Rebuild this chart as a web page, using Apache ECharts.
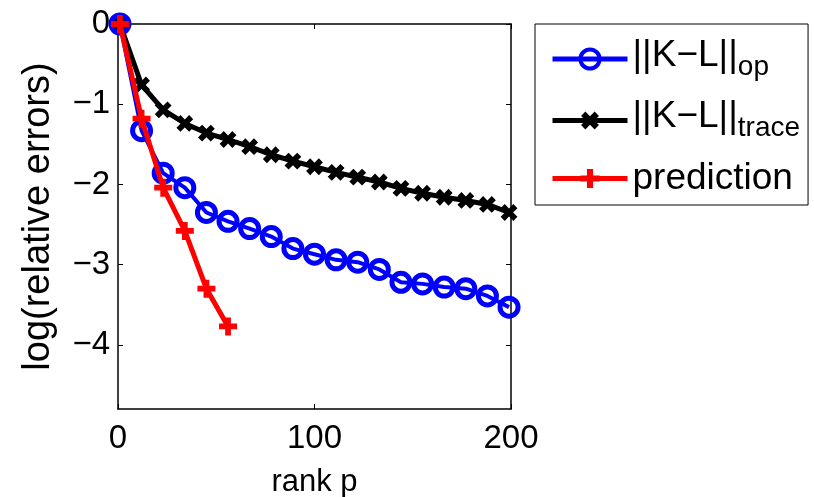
<!DOCTYPE html>
<html>
<head>
<meta charset="utf-8">
<script src="https://cdn.jsdelivr.net/npm/echarts@6/dist/echarts.min.js"></script>
<style>
  html, body { margin: 0; background: #fff; }
  #chart { width: 814px; height: 497px; }
</style>
</head>
<body>
<div id="chart"></div>
<script>
// ranks used for both norm curves
const ranks = [1, 12, 23, 34, 45, 56, 67, 78, 89, 100, 111, 122, 133, 144, 155, 166, 177, 188, 199]
const opErrors = [0, -1.33, -1.86, -2.04, -2.35, -2.46, -2.55, -2.65, -2.80, -2.87, -2.94, -2.97, -3.06, -3.22, -3.24, -3.28, -3.30, -3.39, -3.53]
const traceErrors = [0, -0.76, -1.07, -1.24, -1.36, -1.44, -1.53, -1.63, -1.71, -1.78, -1.85, -1.91, -1.97, -2.05, -2.11, -2.16, -2.20, -2.25, -2.35]
const predRanks = [1, 12, 23, 34, 45, 56]
const predErrors = [0, -1.18, -2.04, -2.58, -3.30, -3.77]
const yTicks = [0, -1, -2, -3, -4]

const font = "'Liberation Sans', Arial, sans-serif"
const pairs = (xs, ys) => xs.map((x, i) => [x, ys[i]])
const minus = v => String(v).replace('-', '\u2212')

const plusPath = 'path://M-1.6,-5H1.6V-1.6H5V1.6H1.6V5H-1.6V1.6H-5V-1.6H-1.6Z'

const axisLine = { show: true, onZero: false, lineStyle: { color: '#000', width: 1.5 } }
const tick = { show: true, inside: true, length: 5, lineStyle: { color: '#000', width: 1 } }

const chart = echarts.init(document.getElementById('chart'))
chart.setOption({
  animation: false,
  textStyle: { fontFamily: font },
  grid: { left: 118, right: 303, top: 24, bottom: 88, outerBoundsMode: 'none', containLabel: false },
  legend: {
    left: 535,
    top: 24,
    orient: 'vertical',
    data: ['op', 'trace', 'prediction'],
    itemWidth: 75,
    itemHeight: 24,
    itemGap: 17.5,
    padding: [13, 8, 8, 15],
    borderColor: '#000',
    borderWidth: 1,
    borderRadius: 0,
    lineStyle: { width: 5 },
    itemStyle: { borderWidth: 4 },
    formatter: name => name === 'prediction'
      ? '{p|prediction}'
      : '{m|||K\u2212L||}{s|' + name + '}',
    textStyle: {
      color: '#000',
      fontFamily: font,
      rich: {
        m: { fontSize: 37, lineHeight: 30, verticalAlign: 'top', fontFamily: font, color: '#000' },
        s: { fontSize: 28, lineHeight: 44, verticalAlign: 'bottom', padding: [5, 0, 0, 0], fontFamily: font, color: '#000' },
        p: { fontSize: 37, lineHeight: 44, fontFamily: font, color: '#000' }
      }
    }
  },
  xAxis: [{
    type: 'value',
    min: 0,
    max: 200,
    interval: 100,
    name: 'rank p',
    nameLocation: 'middle',
    nameGap: 58,
    nameTextStyle: { fontSize: 31, color: '#000', fontFamily: font },
    axisLine: axisLine,
    axisTick: tick,
    splitLine: { show: false },
    axisLabel: { fontSize: 33, color: '#000', margin: 13, fontFamily: font }
  }, {
    type: 'value',
    position: 'top',
    min: 0,
    max: 200,
    interval: 100,
    axisLine: axisLine,
    axisTick: tick,
    splitLine: { show: false },
    axisLabel: { show: false }
  }],
  yAxis: [{
    type: 'value',
    min: -4.8,
    max: 0,
    name: 'log(relative errors)',
    nameLocation: 'middle',
    nameGap: 60,
    nameTextStyle: { fontSize: 38, color: '#000', fontFamily: font },
    axisLine: axisLine,
    axisTick: Object.assign({ customValues: yTicks }, tick),
    splitLine: { show: false },
    axisLabel: { customValues: yTicks, fontSize: 33, color: '#000', margin: 8, fontFamily: font, formatter: minus }
  }, {
    type: 'value',
    position: 'right',
    min: -4.8,
    max: 0,
    axisLine: axisLine,
    axisTick: Object.assign({ customValues: yTicks }, tick),
    splitLine: { show: false },
    axisLabel: { show: false }
  }],
  series: [{
    name: 'trace',
    type: 'line',
    data: pairs(ranks, traceErrors),
    symbol: plusPath,
    symbolRotate: 45,
    symbolSize: 18,
    lineStyle: { color: '#000', width: 5 },
    itemStyle: { color: '#000' },
    z: 2
  }, {
    name: 'op',
    type: 'line',
    data: pairs(ranks, opErrors),
    symbol: 'circle',
    symbolSize: 18,
    lineStyle: { color: '#0000ff', width: 4 },
    itemStyle: { color: 'transparent', borderColor: '#0000ff', borderWidth: 5 },
    z: 3
  }, {
    name: 'prediction',
    type: 'line',
    data: pairs(predRanks, predErrors),
    symbol: plusPath,
    symbolSize: 18,
    lineStyle: { color: '#ff0000', width: 5 },
    itemStyle: { color: '#ff0000' },
    z: 4
  }]
})
</script>
</body>
</html>
